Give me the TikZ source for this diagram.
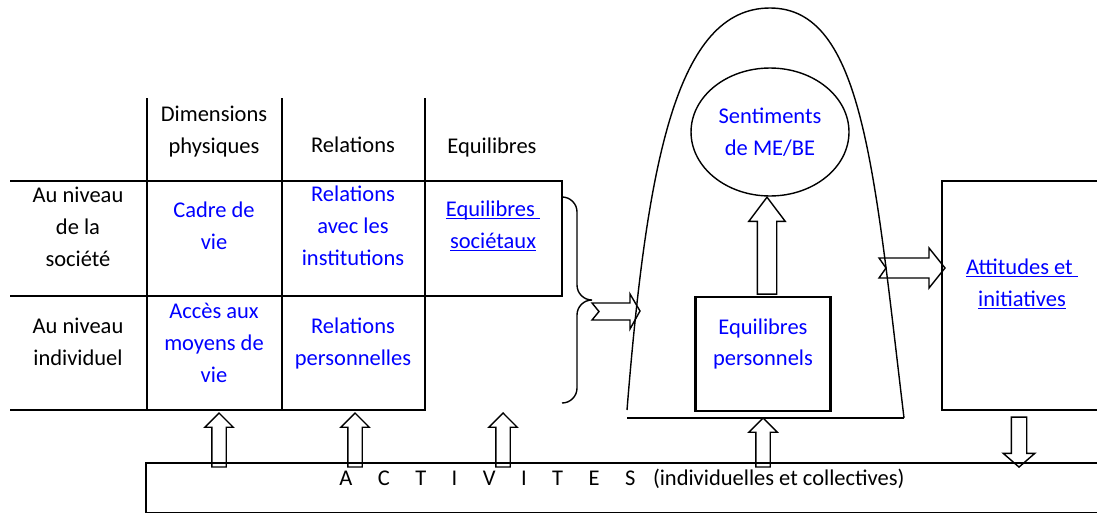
\documentclass[tikz,border=0pt]{standalone}
\usepackage{fontspec}
\setmainfont{Carlito}
\usetikzlibrary{shapes.geometric,shapes.arrows}
\definecolor{lien}{RGB}{0,0,255}

\begin{document}
\begin{tikzpicture}[x=0.02cm,y=-0.02cm,font=\fontsize{12.8}{18.2}\selectfont,
  txt/.style={align=center,inner sep=0pt},
  blu/.style={txt,text=lien},
  fin/.style={line width=0.8pt},
  gras/.style={line width=1.2pt},
  flup/.style={draw,fin,single arrow,single arrow head extend=0.14cm,inner xsep=0pt,inner ysep=0.13cm,anchor=tip,rotate=90}]
\useasboundingbox (0,0) rectangle (1097,514);
% tableau
\draw[fin] (147,98) -- (147,181) (282,98) -- (282,181) (425,98) -- (425,181);
\draw[fin] (10,181) -- (147,181) (10,296) -- (147,296) (10,410) -- (147,410);
\draw[gras] (147,181) rectangle (425,410) (282,181) -- (282,410) (147,296) -- (425,296);
\draw[gras] (425,181) rectangle (562,296);
\node[txt] (hdim) at (214,131.5) {Dimensions\\physiques};
\node[txt] (hrel) at (353,145) {Relations};
\node[txt] (heq) at (492,147) {Equilibres};
\node[txt] (soc) at (78,226.5) {Au niveau\\de la\\société};
\node[txt] (indiv) at (78,342) {Au niveau\\individuel};
\node[blu] (cadre) at (214,226) {Cadre de\\vie};
\node[blu] (acces) at (214,342.5) {Accès aux\\moyens de\\vie};
\node[blu] (relinst) at (353,226) {Relations\\avec les\\institutions};
\node[blu] (relpers) at (353,343.5) {Relations\\personnelles};
\node[blu] (eqsoc) at (493,234) {\underline{\smash{Equilibres\ }}\\\underline{\smash{sociétaux}}};
% accolade
\draw[fin] (562,197) to[out=0,in=90] (577,212) -- (577,285) to[out=-90,in=180] (592,300)
  to[out=180,in=90] (577,315) -- (577,388) to[out=-90,in=0] (562,403);
\draw[fin] (592,303) -- (630,303) -- (630,294) -- (640,311) -- (630,329) -- (630,320) -- (592,320) -- (599,311.5) -- cycle;
% cloche
\draw[fin] (627,410) .. controls (647,160) and (677,8) .. (770,8) .. controls (863,8) and (874,168) .. (904,418);
\draw[fin] (627,418) -- (904,418);
\node[draw,fin,ellipse,minimum width=3.16cm,minimum height=2.56cm,blu] (senti) at (770,132) {Sentiments\\de ME/BE};
\node[draw,gras,minimum width=2.7cm,minimum height=2.28cm] (eqpers) at (763,354) {};
\node[blu] (eqperst) at (763,344) {Equilibres\\personnels};
\node[flup,minimum height=1.94cm,inner ysep=0.18cm,single arrow head extend=0.17cm,single arrow tip angle=74] (fsenti) at (767,196) {};
\draw[fin] (879,258) -- (929,258) -- (929,248) -- (945,268) -- (929,288) -- (929,278) -- (879,278) -- (886,268) -- cycle;
% attitudes
\draw[gras] (1097,181) -| (942,410) -- (1097,410);
\node[blu] (att) at (1022,292) {\underline{\smash{Attitudes et\ }}\\\underline{\smash{initiatives}}};
\node[flup,minimum height=1cm,inner ysep=0.14cm,single arrow head extend=0.16cm,single arrow tip angle=98,rotate=180] (fdown) at (1019,468) {};
% activites
\draw[fin] (1097,463) -| (146,512.6) -- (1097,512.6);
\node[anchor=base west,inner sep=0pt] (act) at (339,485) {A\hspace{14.5pt}C\hspace{14.5pt}T\hspace{14.5pt}I\hspace{14.5pt}V\hspace{14.5pt}I\hspace{14.5pt}T\hspace{14.5pt}E\hspace{14.5pt}S\hspace{10pt}(individuelles et collectives)};
\node[flup,minimum height=1.08cm] (f1) at (219,412) {};
\node[flup,minimum height=1.08cm] (f2) at (355,412) {};
\node[flup,minimum height=1.08cm] (f3) at (503,412) {};
\node[flup,minimum height=0.98cm] (f4) at (763,417) {};
\end{tikzpicture}
\end{document}
